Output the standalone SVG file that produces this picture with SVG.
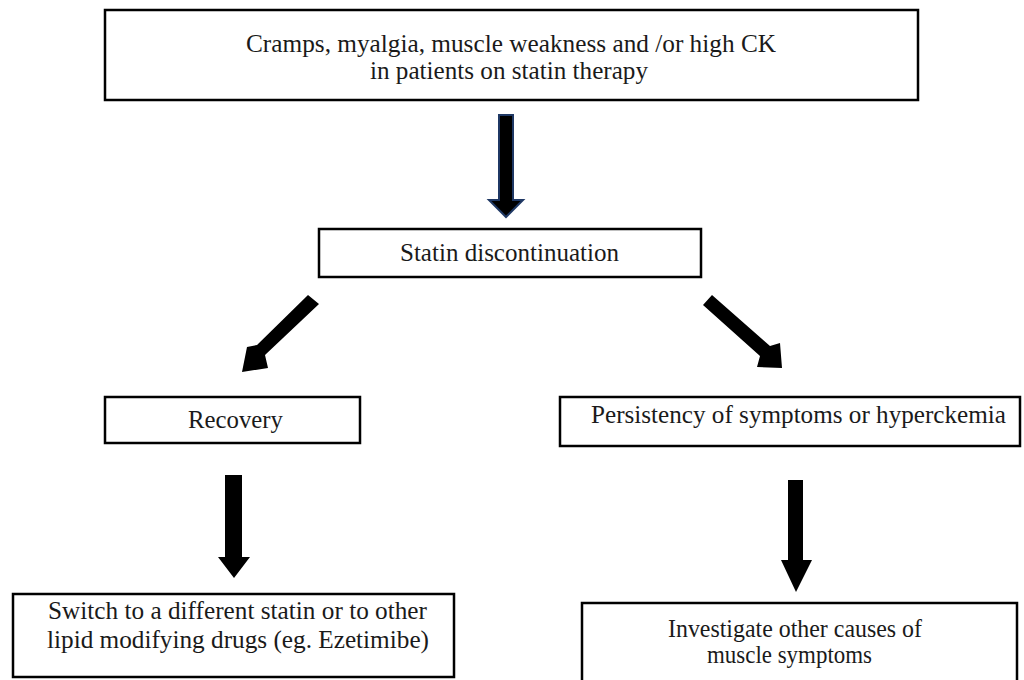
<svg xmlns="http://www.w3.org/2000/svg" width="1024" height="680" viewBox="0 0 1024 680">
<style>
.box{fill:#fff;stroke:#000;stroke-width:2.5}
.t{font-family:"Liberation Serif","Times New Roman",serif;font-size:25px;fill:#1a1a1a;text-anchor:middle}
.arr{fill:#000}
.arrb{fill:#000;stroke:#1f3864;stroke-width:2;stroke-linejoin:miter}
</style>
<rect width="1024" height="680" fill="#fff"/>
<g id="n1"><rect class="box" x="105" y="10" width="813" height="90"/>
<text class="t" x="511" y="52" textLength="530" lengthAdjust="spacingAndGlyphs">Cramps, myalgia, muscle weakness and /or high CK</text>
<text class="t" x="509" y="79" textLength="278" lengthAdjust="spacingAndGlyphs">in patients on statin therapy</text></g>
<g id="n2"><rect class="box" x="319" y="229" width="382" height="48"/>
<text class="t" x="509.5" y="261" textLength="219" lengthAdjust="spacingAndGlyphs">Statin discontinuation</text></g>
<g id="n3"><rect class="box" x="105" y="397" width="255" height="46"/>
<text class="t" x="235.5" y="428" textLength="95" lengthAdjust="spacingAndGlyphs">Recovery</text></g>
<g id="n4"><rect class="box" x="560" y="397" width="460" height="49"/>
<text class="t" x="798.5" y="423" textLength="415" lengthAdjust="spacingAndGlyphs">Persistency of symptoms or hyperckemia</text></g>
<g id="n5"><rect class="box" x="13" y="594" width="441" height="83"/>
<text class="t" x="237.5" y="619" textLength="379" lengthAdjust="spacingAndGlyphs">Switch to a different statin or to other</text>
<text class="t" x="238" y="648" textLength="382" lengthAdjust="spacingAndGlyphs">lipid modifying drugs (eg. Ezetimibe)</text></g>
<g id="n6"><rect class="box" x="582" y="603" width="435" height="80"/>
<text class="t" x="795" y="637" textLength="254" lengthAdjust="spacingAndGlyphs">Investigate other causes of</text>
<text class="t" x="789.5" y="663" textLength="165" lengthAdjust="spacingAndGlyphs">muscle symptoms</text></g>
<g id="connectors">
<polygon class="arrb" points="499,115 513,115 513,200 523,200 506,217 489,200 499,200"/>
<polygon class="arr" points="308,295 319,304 265,355 268,368 242,372 247,347 257,345"/>
<polygon class="arr" points="712,295 703,305 760,356 757,367 782,368 780,343 770,346"/>
<polygon class="arr" points="225,475 242,475 242,557 250,557 234,578 218,557 225,557"/>
<polygon class="arr" points="788,480 803,480 803,560 812,560 796,592 781,560 788,560"/>
</g>
</svg>
